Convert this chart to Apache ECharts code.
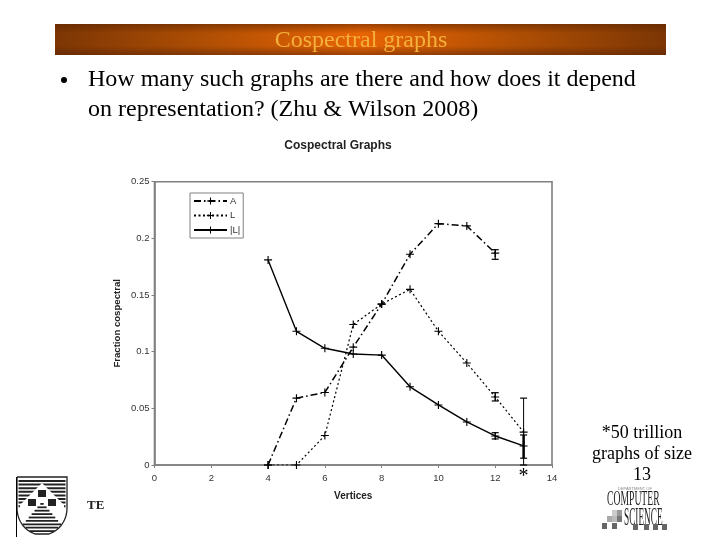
<!DOCTYPE html>
<html><head><meta charset="utf-8">
<style>html,body{margin:0;padding:0;background:#fff}#c{width:720px;height:540px}</style>
<script src="https://cdn.jsdelivr.net/npm/echarts@6/dist/echarts.min.js"></script>
</head><body><div id="c"></div>
<script>
const vertices = [4,5,6,7,8,9,10,11,12,13];
const seriesA = [0,0.059,0.064,0.104,0.142,0.186,0.213,0.211,0.187,null];
const seriesL = [0,0,0.026,0.124,0.142,0.155,0.118,0.090,0.060,0.029];
const seriesAbsL = [0.181,0.118,0.103,0.098,0.097,0.069,0.053,0.038,0.0256,0.0168];
const errA = [[12,0.1815,0.190]];
const errL = [[12,0.0565,0.0638],[13,0,0.059]];
const errAbsL = [[12,0.023,0.0285],[13,0.006,0.0265]];
const yTicks = [0,0.05,0.1,0.15,0.2,0.25];
const seriesNames = ['A','L','|L|'];
const slideTitle = 'Cospectral graphs';
const bulletLines = ['How many such graphs are there and how does it depend','on representation? (Zhu & Wilson 2008)'];
const noteLines = ['*50 trillion','graphs of size','13'];

const plus = 'path://M-0.7,-5 L0.7,-5 L0.7,-0.7 L5,-0.7 L5,0.7 L0.7,0.7 L0.7,5 L-0.7,5 L-0.7,0.7 L-5,0.7 L-5,-0.7 L-0.7,-0.7 Z';
const pair = a => vertices.map((v,i)=>[v,a[i]]).filter(p=>p[1]!==null);
const serif = '"Liberation Serif"', sans = '"Liberation Sans"';

function line(name,data,type,width){
  return {name,type:'line',data:pair(data),symbol:plus,symbolSize:8,showSymbol:true,
    itemStyle:{color:'#000'},lineStyle:{color:'#000',width,type},z:3,animation:false};
}
function errs(data,widths){
  return {type:'custom',data,silent:true,animation:false,z:4,
    renderItem(p,api){
      const x=api.value(0),a=api.coord([x,api.value(1)]),b=api.coord([x,api.value(2)]);
      const w=widths[p.dataIndex]||1.2,st={stroke:'#000',lineWidth:w,fill:null};
      const cap=3.5;
      return {type:'group',children:[
        {type:'line',shape:{x1:a[0],y1:a[1],x2:b[0],y2:b[1]},style:st},
        {type:'line',shape:{x1:a[0]-cap,y1:a[1],x2:a[0]+cap,y2:a[1]},style:{stroke:'#000',lineWidth:1.2}},
        {type:'line',shape:{x1:b[0]-cap,y1:b[1],x2:b[0]+cap,y2:b[1]},style:{stroke:'#000',lineWidth:1.2}}
      ]};
    },
    encode:{x:0,y:[1,2]}};
}

const g=[];
const R=(x,y,w,h,fill)=>g.push({type:'rect',shape:{x,y,width:w,height:h},silent:true,style:{fill}});
const T=(text,x,y,font,fill,align,extra)=>g.push(Object.assign({type:'text',x,y,silent:true,style:{text,font,fill,align:align||'left',verticalAlign:'middle'}},extra||{}));
// title band
R(55,24,611,31,new echarts.graphic.LinearGradient(0,0,1,0,[
  {offset:0,color:'#7c3604'},{offset:0.25,color:'#b04f04'},{offset:0.5,color:'#e86404'},{offset:0.75,color:'#b04f04'},{offset:1,color:'#7c3604'}]));
R(55,24,611,31,new echarts.graphic.LinearGradient(0,0,0,1,[
  {offset:0,color:'rgba(90,35,0,0.55)'},{offset:0.3,color:'rgba(90,35,0,0)'},{offset:0.7,color:'rgba(90,35,0,0)'},{offset:1,color:'rgba(90,35,0,0.55)'}]));
T(slideTitle,361,40.5,'24px '+serif,'#f4b03c','center');
// bullet
g.push({type:'circle',shape:{cx:64,cy:80,r:3},silent:true,style:{fill:'#000'}});
bulletLines.forEach((t,i)=>T(t,88,79.5+i*30,'24px '+serif,'#000'));
// chart title and star
T('Cospectral Graphs',338,146,'bold 12px '+sans,'#222','center');
T('*',523.5,477,'20px '+serif,'#000','center');
// note
noteLines.forEach((t,i)=>T(t,642,433+i*21.3,'18px '+serif,'#000','center'));
// footer fragment
T('TE',87,506,'bold 13px '+serif,'#222');
// shield
const cx=42;
const halfW=y=> y<508?25:25*Math.sqrt(Math.max(0,1-Math.pow((y-508)/27,2)));
for(let y=480;y<508;y+=3.6){const w=halfW(y)-1.5;R(cx-w,y,2*w,2,'#222');}
g.push({type:'polygon',shape:{points:[[cx,483],[cx+22,505],[cx+22,512],[cx-22,512],[cx-22,505]]},silent:true,style:{fill:'#fff'}});
[[38,490],[28,499],[48,499]].forEach(([x,y])=>R(x,y,8,7,'#222'));
for(let y=503;y<533;y+=3.4){const w=Math.min((y-501)*0.85,halfW(y)-1.5);R(cx-w,y,2*w,1.8,'#222');}
const curve=[[17,477],[67,477]];
for(let y=480;y<=535;y+=2){curve.push([cx+halfW(y),y]);}
for(let y=534;y>=480;y-=2){curve.push([cx-halfW(y),y]);}
curve.push([17,477]);
g.push({type:'polyline',shape:{points:curve},silent:true,style:{stroke:'#222',lineWidth:1.3,fill:null}});
g.push({type:'line',shape:{x1:16.5,y1:477,x2:16.5,y2:537},silent:true,style:{stroke:'#000',lineWidth:1}});
// computer science logo
T('DEPARTMENT OF',618,488.5,'4px '+sans,'#888');
T('COMPUTER',607,499,'21px '+serif,'#222','left',{scaleX:0.46});
T('SCIENCE',624,518,'25px '+serif,'#222','left',{scaleX:0.37});
[[602,523,'#666'],[607,516,'#aaa'],[612,510,'#ccc'],[612,516,'#bbb'],[617,510,'#999'],[617,516,'#777'],[612,523,'#666'],
 [633,524,'#666'],[644,524,'#666'],[653,524,'#666'],[662,524,'#666']]
 .forEach(([x,y,c])=>R(x,y,5,6,c));

const axisText={fontFamily:sans,fontSize:9.5,color:'#333'};
const nameText={fontFamily:sans,fontSize:10,fontWeight:'bold',color:'#222'};
const chart=echarts.init(document.getElementById('c'),null,{renderer:'canvas'});
chart.setOption({
  animation:false,backgroundColor:'#fff',
  grid:{left:154.5,right:168,top:181.7,bottom:75,show:true,borderColor:'#808080',borderWidth:1.6,backgroundColor:'transparent'},
  legend:{data:seriesNames,orient:'vertical',left:190,top:193,itemWidth:33,itemHeight:9,itemGap:4.5,padding:[3,3,3,3],
    borderColor:'#808080',borderWidth:1,backgroundColor:'#fff',
    textStyle:{fontFamily:sans,fontSize:9.5,color:'#333',padding:[0,0,0,-2]},selectedMode:false},
  xAxis:{type:'value',min:0,max:14,interval:2,name:'Vertices',nameLocation:'middle',nameGap:26,nameTextStyle:nameText,
    axisLine:{lineStyle:{color:'#808080',width:1.6}},axisTick:{show:true,length:3,lineStyle:{color:'#808080'}},
    axisLabel:{...axisText,margin:8},splitLine:{show:false}},
  yAxis:{type:'value',min:0,max:0.25,interval:0.05,name:'Fraction cospectral',nameLocation:'middle',nameGap:32.5,nameMoveOverlap:false,
    nameTextStyle:{...nameText,fontSize:9.6},
    axisLine:{show:true,lineStyle:{color:'#808080',width:1.6}},axisTick:{show:true,length:3,lineStyle:{color:'#808080'}},
    axisLabel:{...axisText,margin:5,formatter:v=>String(yTicks.find(t=>Math.abs(t-v)<1e-9)??v)},splitLine:{show:false}},
  series:[
    line(seriesNames[0],seriesA,[7,3,1.5,3],1.5),
    line(seriesNames[1],seriesL,[2,2.5],1.2),
    line(seriesNames[2],seriesAbsL,'solid',1.4),
    errs(errA,[1.2]),errs(errL,[1,1]),errs(errAbsL,[1,2.5])
  ],
  graphic:{elements:g}
});
</script></body></html>
